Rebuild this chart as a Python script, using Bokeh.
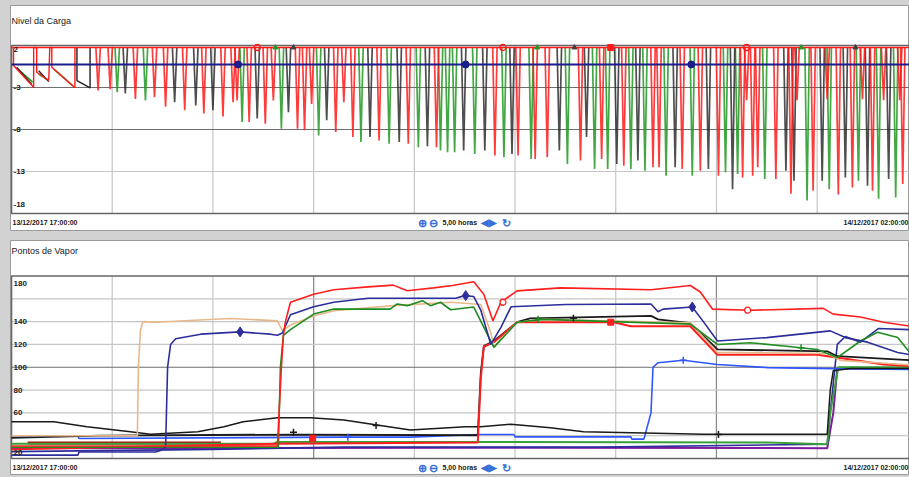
from bokeh.plotting import figure
from bokeh.layouts import column
from bokeh.embed import file_html
from bokeh.resources import INLINE
from bokeh.core.properties import value

FONT = "Liberation Sans"

# ---------------- shared time axis (hours after 13/12/2017 17:00:00) ----------------
hour_ticks = [1, 2, 3, 4, 5, 6, 7, 8]
t_start_label = "13/12/2017 17:00:00"
t_end_label = "14/12/2017 02:00:00"
span_label = "5,00 horas"
ctrl_t = [4.04, 4.15, 4.28, 4.66, 4.87]
ctrl_txt = ["\u2295", "\u2296", span_label, "\u25c0\u25b6", "\u21bb"]

# ---------------- panel 1: Nivel da Carga ----------------
carga_min, carga_max = -18, 2
carga_ticks = [2, -3, -8, -13, -18]
carga_tick_labels = ["2", "-3", "-8", "-13", "-18"]
carga_light_grid = [-13]
carga_dark_grid = [-3, -8]
level_full = 1.76
level_ref = -0.26
ref_marker_t = [2.25, 4.51, 6.75]

# initial charging saw-tooth
NaN = float("nan")
saw_red_t = [0.02, 0.02, 0.22, 0.22, 0.25, 0.25, 0.37, 0.38, 0.40, 0.40, 0.63, 0.63]
saw_red_v = [1.76, -0.38, -2.96, 1.76, 1.76, -1.18, -2.17, 1.76, 1.76, -0.58, -3.04, 1.76]
saw_green_t = [0.06, 0.21, NaN, 0.27, 0.36, NaN, 0.43, 0.61]
saw_green_v = [-0.77, -2.37, NaN, -1.4, -2.1, NaN, -0.9, -2.8]
saw_black_t = [0.05, 0.20, NaN, 0.27, 0.37, NaN, 0.65, 0.65, 0.78, 0.78]
saw_black_v = [-0.6, -2.6, NaN, -1.0, -2.3, NaN, 1.76, -2.17, -3.04, 1.76]

# discharge spikes (time, lowest level)
red_spike_t = [0.86, 0.98, 1.23, 1.42, 1.53, 1.72, 1.91, 2.10, 2.20, 2.24, 2.36, 2.52, 2.60,
               2.84, 2.91, 2.98, 3.22, 3.30, 3.39, 3.65, 3.94, 4.22, 4.80, 5.03, 5.20, 5.32,
               5.65, 5.86, 6.08, 6.37, 6.43, 6.66, 6.84, 7.02, 7.26, 7.36, 7.41, 7.59, 7.74,
               7.96, 8.21, 8.35, 8.55, 8.85,
               7.30, 7.80, 8.10, 8.45, 8.66, 8.82]
red_spike_d = [-3.36, -3.2, -4.35, -4.15, -5.3, -5.7, -6.1, -6.45, -4.75, -4.55, -7.1, -7.3, -4.55,
               -7.9, -8.1, -4.95, -8.3, -4.75, -8.9, -9.3, -9.7, -10.1, -11.1, -11.1, -11.5, -11.3,
               -11.7, -11.5, -12.3, -12.5, -12.5, -12.7, -12.9, -13.5, -13.7, -13.5, -12.5, -13.9, -15.65,
               -15.3, -15.75, -14.9, -15.3, -14.5,
               -4.5, -4.5, -4.4, -4.4, -4.5, -4.5]
green_spike_t = [1.05, 1.33, 2.29, 2.68, 3.05, 3.47, 3.75, 4.04, 4.26, 4.33, 4.40, 4.60, 4.89,
                 5.16, 5.52, 5.79, 5.92, 6.15, 6.29, 6.50, 6.76, 7.09, 7.21, 7.48, 7.90, 8.12,
                 8.41, 8.61, 8.78]
green_spike_d = [-3.55, -4.55, -7.1, -7.9, -8.7, -9.5, -9.7, -10.1, -10.5, -10.7, -10.7, -10.9, -11.3,
                 -11.5, -12.1, -12.7, -12.7, -12.7, -12.9, -13.5, -13.5, -13.1, -13.3, -13.9, -16.45, -15.1,
                 -14.1, -16.25, -16.1]
black_spike_t = [1.13, 1.62, 1.83, 2.00, 2.44, 2.75, 3.13, 3.56, 3.85, 4.13, 4.49, 4.70, 4.97,
                 5.44, 5.71, 6.01, 6.22, 6.59, 6.92, 7.16, 7.69, 7.77, 8.05, 8.28, 8.50, 8.71]
black_spike_d = [-3.7, -4.75, -5.15, -5.7, -6.7, -5.95, -6.9, -8.9, -9.5, -10.0, -10.5, -10.5, -10.9,
                 -10.5, -8.9, -12.1, -11.7, -12.5, -12.7, -15.1, -12.9, -14.1, -14.1, -13.7, -14.7, -13.9]

top_red_circle_t = [2.44, 4.88, 7.30]
top_red_square_t = [5.95]
top_green_mark_t = [2.62, 5.22, 7.84]
top_black_mark_t = [2.80, 5.59, 8.38]

# ---------------- panel 2: Pontos de Vapor ----------------
vapor_min, vapor_max = 20, 180
vapor_ticks = [180, 140, 120, 100, 80, 60, 20]
vapor_tick_labels = ["180", "140", "120", "100", "80", "60", "20"]
vapor_light_grid = [160, 140, 120, 80, 60, 40]
vapor_dark_grid = [100]
vapor_dark_vgrid = [3, 7]

red1_t = [0, 2.64, 2.68, 2.70, 2.72, 2.77, 3.00, 3.20, 3.54, 3.79, 3.93, 4.19, 4.38, 4.59, 4.69,
          4.78, 4.86, 5.02, 5.45, 6.35, 6.74, 6.84, 6.96, 7.34, 8.06, 8.16, 8.43, 8.66, 8.92]
red1_v = [31, 31, 100, 128, 140, 157, 164, 168, 170.5, 172, 167, 169.6, 171.7, 175, 164,
          140.7, 157, 167, 169.6, 168, 171.7, 166, 151, 150, 151.6, 146.6, 144, 139.5, 136]
navy1_t = [0, 0.66, 0.67, 1.43, 1.48, 1.53, 1.55, 1.58, 1.63, 1.88, 2.27, 2.57, 2.64, 2.69, 2.77,
           3.00, 3.20, 3.54, 4.41, 4.50, 4.59, 4.66, 4.76, 4.86, 4.96, 5.50, 6.35, 6.42, 6.47,
           6.76, 6.87, 7.01, 7.50, 8.13, 8.28, 8.50, 8.80, 8.92]
navy1_v = [23, 23, 25.7, 25.7, 27, 30, 100, 120, 125, 129, 131, 129, 128, 130, 146,
           153, 157, 160.5, 160.5, 162.8, 162, 150, 120, 135, 153, 155, 155.5, 148.6, 151,
           152.8, 140, 123, 126, 131.9, 126, 122, 113, 111]
tan_t = [0, 1.25, 1.26, 1.28, 1.30, 1.32, 1.42, 2.17, 2.64, 2.69, 2.77, 3.00, 3.20, 3.79, 4.36,
         4.66, 4.76, 4.79, 5.02, 5.28, 6.74, 7.01, 8.10, 8.23, 8.60, 8.92]
tan_v = [40, 40, 100, 132, 139, 140, 139.5, 142.8, 140.7, 132, 137, 145, 149.6, 154, 157,
         155, 130, 118, 139.5, 142, 139, 113, 112, 106, 104, 102]
green1_t = [0, 2.65, 2.67, 2.70, 2.77, 3.00, 3.20, 3.76, 3.83, 3.93, 4.08, 4.16, 4.26, 4.36, 4.59,
            4.79, 5.02, 5.28, 6.74, 7.01, 7.34, 7.67, 8.00, 8.20, 8.43, 8.60, 8.80, 8.92]
green1_v = [30, 30, 100, 128, 133, 146.6, 151, 151, 155.5, 154, 158.4, 154, 157, 150.4, 152.8,
            117.4, 139.5, 142, 137.8, 120, 121.5, 118.6, 115.6, 108.5, 123, 130.7, 126, 113]
red2_t = [0, 2.64, 4.63, 4.66, 4.69, 4.79, 5.02, 5.98, 6.15, 6.74, 7.01, 8.00, 8.33, 8.66, 8.92]
red2_v = [28, 33, 34, 90, 118, 122, 139.5, 139.5, 136, 136, 111, 111, 106.8, 102.4, 101]
black2_t = [0, 0.88, 2.80, 4.63, 4.66, 4.69, 4.79, 5.02, 5.15, 6.35, 6.42, 6.74, 7.01, 8.10, 8.20, 8.92]
black2_v = [38, 40, 41, 40.4, 95, 118.6, 123, 139.5, 142.8, 145, 142, 138.6, 115.6, 114, 109.7, 106.2]
black1_t = [0, 0.42, 0.75, 1.18, 1.38, 1.85, 2.11, 2.30, 2.64, 2.97, 3.30, 3.63, 3.96, 4.51, 4.66,
            4.96, 5.35, 5.68, 6.87, 8.10, 8.13, 8.16, 8.33, 8.92]
black1_v = [52.2, 52.2, 47.8, 43.4, 41.3, 43.4, 47.8, 52.2, 55.8, 55.8, 53.7, 49.3, 44.9, 47.8, 47.8,
            50, 47, 43.4, 41.3, 41.3, 80, 97, 98.8, 98.8]
blue_t = [0, 0.66, 0.67, 3.30, 3.96, 4.64, 4.99, 5.00, 6.15, 6.16, 6.28, 6.35, 6.37, 6.42, 6.67,
          7.01, 7.51, 8.16, 8.92]
blue_v = [40, 40, 37.5, 38.7, 38.7, 41, 41, 39, 39, 37, 37, 60, 100, 104, 106.2,
          102.4, 99.7, 98.8, 98]
purple_t = [0, 4.66, 5.15, 8.10, 8.16, 8.20, 8.92]
purple_v = [29, 29.5, 29.5, 29, 60, 99, 99]
navy2_t = [0, 2.00, 3.30, 5.85, 8.10, 8.13, 8.20, 8.28, 8.43, 8.61, 8.92]
navy2_v = [26, 28, 30, 30, 32.5, 60, 120, 127, 122, 134, 133]
green2_t = [0, 2.60, 2.64, 4.64, 7.51, 8.10, 8.13, 8.21, 8.92]
green2_v = [33, 33, 34.5, 34.5, 34, 32.5, 60, 100, 100]
brown_t = [0.16, 2.08]
brown_v = [33.5, 33.5]

navy_diamond_t = [2.27, 4.51, 6.76]
navy_diamond_v = [131, 162.8, 152.8]
red_circle_t = [4.88, 7.31]
red_circle_v = [157, 150]
black_plus_t = [2.80, 3.62, 5.58, 7.02]
black_plus_v = [43, 49, 143, 41]
red_square_t = [2.99, 5.95]
red_square_v = [37.8, 139.5]
green_plus_t = [5.23, 7.84]
green_plus_v = [142, 117]
blue_plus_t = [3.34, 6.67]
blue_plus_v = [38.7, 106.2]

# ---------------- styling ----------------
RED = "#ff1f1f"
NAVY = "#2d2d9c"
TAN = "#e8b88a"
GREEN = "#1e8c1e"
BLACK = "#1a1a1a"
BLUE = "#2f56ff"
PURPLE = "#7d1a9e"
CTRL = "#3a6fd8"
TXT = "#202020"
X_END = 8.917          # right edge of the visible time window
PX_PER_H = 100.7
PANEL_W = 899


def make_panel(title, height, top_margin, box_top_px, box_bot_px, vmin, vmax,
               light, dark, vdark):
    box_h = height - box_top_px - box_bot_px
    upp = (vmax - vmin) / box_h            # data units per pixel
    yr = (vmin - box_bot_px * upp, vmax + box_top_px * upp)
    xr = (-1.0 / PX_PER_H, X_END)
    p = figure(width=PANEL_W, height=height, x_range=xr, y_range=yr,
               output_backend="svg", toolbar_location=None,
               x_axis_location=None, y_axis_location=None,
               min_border=0)
    p.margin = (top_margin, 0, 0, 10)
    p.grid.visible = False
    p.background_fill_color = "white"
    p.border_fill_color = "white"
    p.outline_line_color = "#9a9a9a"
    p.outline_line_width = 1
    n = len(hour_ticks)
    p.segment(x0=hour_ticks, y0=[vmin] * n, x1=hour_ticks, y1=[vmax] * n,
              line_color="#c6c6c6", line_width=1.2)
    if vdark:
        m = len(vdark)
        p.segment(x0=vdark, y0=[vmin] * m, x1=vdark, y1=[vmax] * m,
                  line_color="#8c8c8c", line_width=1.2)
    k = len(light)
    p.segment(x0=[0] * k, y0=light, x1=[X_END] * k, y1=light, line_color="#c6c6c6", line_width=1.2)
    k = len(dark)
    p.segment(x0=[0] * k, y0=dark, x1=[X_END] * k, y1=dark, line_color="#6e6e6e", line_width=1.2)
    p.quad(left=[0], right=[X_END + 0.05], bottom=[vmin], top=[vmax], fill_color=None,
           line_color="#666666", line_width=1.6)
    p.text(x=[0], y=[vmax], text=[title], y_offset=-25, x_offset=0,
           text_font=value(FONT), text_font_size="9px", text_color=TXT, text_baseline="middle")
    p.text(x=[0], y=[vmin], text=[t_start_label], y_offset=9, x_offset=1,
           text_font=value(FONT), text_font_size="7px", text_font_style="bold",
           text_color=TXT, text_baseline="middle")
    p.text(x=[X_END], y=[vmin], text=[t_end_label], y_offset=9, x_offset=-1,
           text_align="right", text_font=value(FONT), text_font_size="7px",
           text_font_style="bold", text_color=TXT, text_baseline="middle")
    ctrl_col = [CTRL, CTRL, TXT, CTRL, CTRL]
    ctrl_size = ["11px", "11px", "7px", "10px", "11px"]
    p.text(x=ctrl_t, y=[vmin] * len(ctrl_t), text=ctrl_txt, y_offset=9,
           text_font=value(FONT), text_font_size=ctrl_size, text_color=ctrl_col,
           text_font_style="bold", text_baseline="middle")
    return p


def add_tick_labels(p, ticks, labels, offs):
    p.text(x=[0] * len(ticks), y=ticks, text=labels, x_offset=2, y_offset=offs,
           text_font=value(FONT), text_font_size="8px", text_font_style="bold",
           text_color=TXT, text_baseline="middle")


# ---------------- top panel ----------------
p1 = make_panel("Nivel da Carga", 226, 5, 40, 18, carga_min, carga_max,
                carga_light_grid, carga_dark_grid, [])


def spikes(ts, ds, half=0.022):
    xs, ys = [], []
    for t, d in zip(ts, ds):
        xs.append([t - half, t, t + half])
        ys.append([level_full, d, level_full])
    return xs, ys


for ts, ds, col, a in [(green_spike_t, green_spike_d, "#229922", 0.85),
                       (black_spike_t, black_spike_d, "#222222", 0.8),
                       (red_spike_t, red_spike_d, "#ff1a1a", 0.85)]:
    xs, ys = spikes(ts, ds)
    p1.multi_line(xs, ys, line_color=col, line_width=1.7, line_alpha=a)

p1.line(saw_green_t, saw_green_v, line_color="#229922", line_width=1.6)
p1.line(saw_black_t, saw_black_v, line_color="#222222", line_width=1.4)
p1.line(saw_red_t, saw_red_v, line_color="#ff1a1a", line_width=1.4)
p1.line([0, X_END], [level_full, level_full], line_color="#ff1a1a", line_width=1.6)
p1.line([0, X_END], [level_ref, level_ref], line_color="#1c1c8c", line_width=2)
p1.scatter(ref_marker_t, [level_ref] * len(ref_marker_t), marker="circle", size=7,
           fill_color="#1c1c8c", line_color="#1c1c8c")
p1.scatter(top_red_circle_t, [level_full] * len(top_red_circle_t), marker="circle", size=6,
           fill_color=None, line_color="#ff1a1a", line_width=1.3)
p1.scatter(top_red_square_t, [level_full] * len(top_red_square_t), marker="square", size=6,
           fill_color="#ff1a1a", line_color="#ff1a1a")
p1.scatter(top_green_mark_t, [level_full] * len(top_green_mark_t), marker="triangle", size=5,
           fill_color="#229922", line_color="#229922")
p1.scatter(top_black_mark_t, [level_full] * len(top_black_mark_t), marker="triangle", size=5,
           fill_color="#404040", line_color="#404040")
add_tick_labels(p1, carga_ticks, carga_tick_labels, [4, 0, 0, 0, -9])

# ---------------- bottom panel ----------------
p2 = make_panel("Pontos de Vapor", 235, 9, 35.5, 17, vapor_min, vapor_max,
                vapor_light_grid, vapor_dark_grid, vapor_dark_vgrid)

series = [
    (brown_t, brown_v, "#b01010", 3.0),
    (purple_t, purple_v, PURPLE, 2.0),
    (navy2_t, navy2_v, NAVY, 1.6),
    (green2_t, green2_v, "#3aa03a", 2.0),
    (blue_t, blue_v, BLUE, 1.6),
    (black1_t, black1_v, BLACK, 1.5),
    (black2_t, black2_v, BLACK, 1.8),
    (red2_t, red2_v, RED, 2.0),
    (tan_t, tan_v, TAN, 1.6),
    (green1_t, green1_v, GREEN, 1.6),
    (navy1_t, navy1_v, NAVY, 1.6),
    (red1_t, red1_v, RED, 1.6),
]
for ts, vs, col, w in series:
    p2.line(ts, vs, line_color=col, line_width=w)

p2.scatter(navy_diamond_t, navy_diamond_v, marker="diamond", size=10, fill_color=NAVY, line_color=NAVY)
p2.scatter(red_circle_t, red_circle_v, marker="circle", size=6, fill_color="white", line_color=RED, line_width=1.3)
p2.scatter(black_plus_t, black_plus_v, marker="cross", size=7, line_color=BLACK, line_width=1.5)
p2.scatter(red_square_t, red_square_v, marker="square", size=6, fill_color=RED, line_color=RED)
p2.scatter(green_plus_t, green_plus_v, marker="cross", size=7, line_color=GREEN, line_width=1.5)
p2.scatter(blue_plus_t, blue_plus_v, marker="cross", size=7, line_color=BLUE, line_width=1.5)
add_tick_labels(p2, vapor_ticks, vapor_tick_labels, [7, 0, 0, 0, 0, 0, -6])

layout = column(p1, p2, spacing=0)
html = file_html(layout, INLINE)
html = html.replace("</head>", "<style>body{background:#d2d2d2;}</style></head>", 1)
open("out.html", "w").write(html)
